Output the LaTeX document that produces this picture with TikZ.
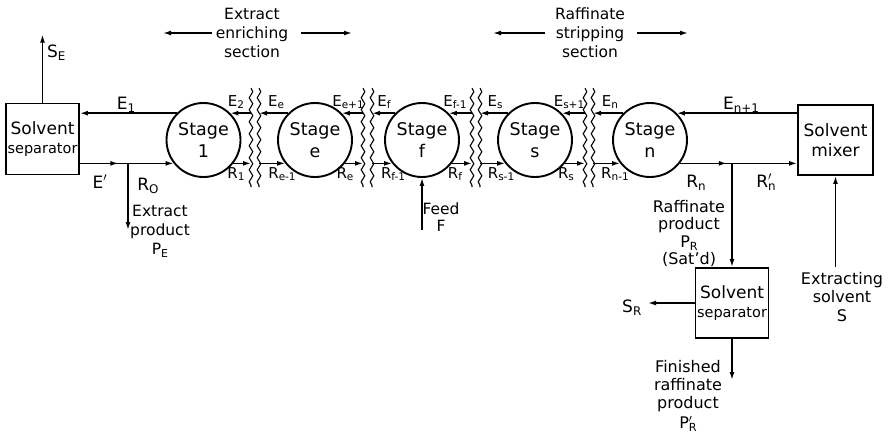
\documentclass[tikz,border=0pt]{standalone}
\usepackage{fontspec}
\setmainfont{DejaVu Sans}
\usepackage{graphicx}
\usetikzlibrary{arrows.meta,decorations.pathmorphing,decorations.markings}
\newcommand\sbx[2]{#1\raisebox{-.35ex}{\scalebox{.7}{#2}}}
\newcommand\sbxp[2]{#1\rlap{$^{\prime}$}\raisebox{-.35ex}{\scalebox{.7}{#2}}}
\tikzset{
  tip/.tip={Latex[length=8pt,width=5pt]},
  flow/.style={line width=1.5pt,-tip},
  plain/.style={line width=1.5pt},
  midarrow/.style={postaction={decorate},decoration={markings,mark=at position #1 with {\arrow{tip}}}},
  stagebox/.style={circle,draw,line width=1.9pt,minimum size=74pt,inner sep=0pt,align=center,font=\fontsize{17.5}{22}\selectfont},
  unitbox/.style={rectangle,draw,line width=1.9pt,align=center,inner sep=0pt,font=\fontsize{17}{20}\selectfont},
  biglbl/.style={inner sep=0pt,anchor=base,font=\fontsize{17}{20}\selectfont},
  smalllbl/.style={inner sep=0pt,anchor=base,font=\fontsize{15}{17}\selectfont},
  notetext/.style={inner sep=0pt,align=center,font=\fontsize{16}{17.5}\selectfont},
  wavy/.style={line width=1.1pt,decorate,decoration={snake,amplitude=1.8pt,segment length=12pt}}
}
\begin{document}
\begin{tikzpicture}[x=1pt,y=-1pt]
\path[use as bounding box,fill=white] (0,0) rectangle (890,437);

% stages
\node[stagebox] (s1) at (203.5,140) {Stage\\1};
\node[stagebox] (se) at (315,140) {Stage\\e};
\node[stagebox] (sf) at (422,140) {Stage\\f};
\node[stagebox] (ss) at (535,140) {Stage\\s};
\node[stagebox] (sn) at (650,140) {Stage\\n};

% units
\node[unitbox,minimum width=73pt,minimum height=71pt] (sepL) at (42.5,139) {Solvent\\[-1pt]{\fontsize{14.5}{16}\selectfont separator}};
\node[unitbox,minimum width=75pt,minimum height=70pt] (mixer) at (835.5,140) {Solvent\\mixer};
\node[unitbox,minimum width=73pt,minimum height=70pt] (sepR) at (732,303) {Solvent\\[-1pt]{\fontsize{14.5}{16}\selectfont separator}};

% wavy breaks
\foreach \n/\x in {1a/251,1b/259,2a/363,2b/372,3a/472,3b/480,4a/585,4b/593}{
  \coordinate (w\n t) at (\x,88);
  \coordinate (w\n b) at (\x,187);
  \draw[wavy] (w\n t) -- (w\n b);
}

% inter-stage streams
\foreach \l/\r/\wa/\wb in {s1/se/w1a/w1b, se/sf/w2a/w2b, sf/ss/w3a/w3b, ss/sn/w4a/w4b}{
  \draw[flow] (\wa t |- \l.45) -- (\l.45);
  \draw[flow] (\r.135) -- (\wb t |- \r.135);
  \draw[flow] (\l.-38) -- (\wa t |- \l.-38);
  \draw[flow] (\wb t |- \r.-142) -- (\r.-142);
}

% left end
\draw[flow] (s1.135) -- (s1.135 -| sepL.east);
\coordinate (xL) at (128,0);
\coordinate (jL) at (s1.-142 -| xL);
\draw[plain,midarrow=0.8] (sepL.east |- jL) -- (jL);
\draw[flow] (jL) -- (s1.-142);
\coordinate (pE) at (128,230);
\draw[flow] (jL) -- (pE);
\coordinate (sEend) at ([yshift=68pt]sepL.north);
\draw[flow] (sepL.north) -- (sEend);

% right end
\draw[flow] (mixer.west |- sn.45) -- (sn.45);
\coordinate (xR) at (732,0);
\coordinate (jR) at (sn.-38 -| xR);
\draw[plain,midarrow=0.9] (sn.-38) -- (jR);
\draw[flow] (jR) -- (jR -| mixer.west);
\draw[flow] (jR) -- (sepR.north);
\coordinate (sRend) at (648,0 |- sepR.west);
\draw[flow] (sepR.west) -- (sRend);
\coordinate (finEnd) at (732,380);
\draw[flow] (sepR.south) -- (finEnd);
\coordinate (solvStart) at (835.5,267);
\draw[flow] (solvStart) -- (mixer.south);
\coordinate (feedStart) at (422,230);
\draw[flow] (feedStart) -- (sf.south);

% section headings
\node[notetext,font=\fontsize{15.5}{19}\selectfont] (enr) at (252,33) {Extract\\enriching\\section};
\coordinate (enrL) at (163,33);
\coordinate (enrR) at (352,33);
\draw[flow] ([xshift=-4pt]enr.west) -- (enrL);
\draw[flow] ([xshift=13pt]enr.east) -- (enrR);
\node[notetext,font=\fontsize{15.5}{19}\selectfont] (strip) at (590,33) {Raffinate\\stripping\\section};
\coordinate (stripL) at (493,33);
\coordinate (stripR) at (688,33);
\draw[flow] ([xshift=-10pt]strip.west) -- (stripL);
\draw[flow] ([xshift=12pt]strip.east) -- (stripR);

% big stream labels
\node[biglbl,anchor=base west] (lSE) at (47,57) {\sbx{S}{E}};
\node[biglbl] (lE1) at (126,109) {\sbx{E}{1}};
\node[biglbl] (lEp) at (100,188) {E$'$};
\node[biglbl] (lR0) at (148,190) {\sbx{R}{O}};
\node[biglbl] (lEn1) at (741,109) {\sbx{E}{n+1}};
\node[biglbl] (lRn) at (696,187) {\sbx{R}{n}};
\node[biglbl] (lRnp) at (766,187) {\sbxp{R}{n}};
\node[biglbl,anchor=base west] (lSR) at (622,312) {\sbx{S}{R}};

% inter-stage labels
\node[smalllbl] at (236,106) {\sbx{E}{2}};
\node[smalllbl] at (276,106) {\sbx{E}{e}};
\node[smalllbl] at (348,106) {\sbx{E}{e+1}};
\node[smalllbl] at (384,106) {\sbx{E}{f}};
\node[smalllbl] at (455,106) {\sbx{E}{f-1}};
\node[smalllbl] at (495,106) {\sbx{E}{s}};
\node[smalllbl] at (569,106) {\sbx{E}{s+1}};
\node[smalllbl] at (610,106) {\sbx{E}{n}};
\node[smalllbl] at (236,178) {\sbx{R}{1}};
\node[smalllbl] at (282,178) {\sbx{R}{e-1}};
\node[smalllbl] at (345,178) {\sbx{R}{e}};
\node[smalllbl] at (393,178) {\sbx{R}{f-1}};
\node[smalllbl] at (455,178) {\sbx{R}{f}};
\node[smalllbl] at (501,178) {\sbx{R}{s-1}};
\node[smalllbl] at (566,178) {\sbx{R}{s}};
\node[smalllbl] at (615,178) {\sbx{R}{n-1}};

% notes
\node[notetext,anchor=north,font=\fontsize{15.5}{19}\selectfont] (tPE) at (160,205) {Extract\\product\\\sbx{P}{E}};
\node[notetext,anchor=north,font=\fontsize{15.5}{17}\selectfont] (tFeed) at (441,203) {Feed\\F};
\node[notetext,anchor=north] (tPR) at (689,200) {Raffinate\\product\\\sbx{P}{R}\\(Sat'd)};
\node[notetext,anchor=north,font=\fontsize{16}{18}\selectfont] (tFin) at (688,360) {Finished\\raffinate\\product\\[2pt]\sbxp{P}{R}};
\node[notetext,anchor=north,font=\fontsize{16}{18.5}\selectfont] (tSolv) at (842,272) {Extracting\\solvent\\S};
\end{tikzpicture}
\end{document}
